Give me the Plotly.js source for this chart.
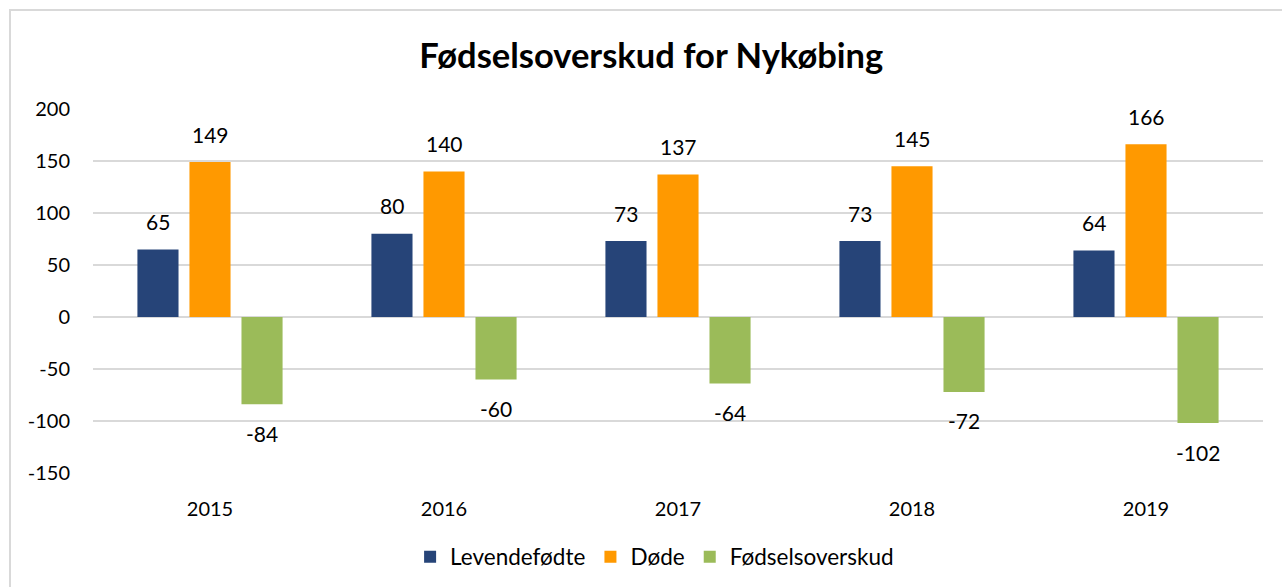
<!DOCTYPE html>
<html><head><meta charset="utf-8">
<script src="https://cdn.plot.ly/plotly-3.0.1.min.js"></script>
<style>
html,body{margin:0;padding:0;background:#fff;overflow:hidden;}
#frame{position:absolute;left:9px;top:9px;width:1300px;height:600px;border:2px solid #d9d9d9;box-sizing:border-box;}
#chart{position:absolute;left:0;top:0;width:1282px;height:587px;}
</style></head>
<body>
<div id="frame"></div>
<div id="chart"></div>
<script>
const years = ['2015','2016','2017','2018','2019'];
const levendefodte = [65, 80, 73, 73, 64];
const dode = [149, 140, 137, 145, 166];
const fodselsoverskud = [-84, -60, -64, -72, -102];
const seriesNames = ['Levendefødte','Døde','Fødselsoverskud'];
const yTickVals = [-150, -100, -50, 0, 50, 100, 150, 200];
const yTickText = ['-150', '-100', '-50', '0', '50', '100', '150', '200'];
const colors = ['#264478','#FF9900','#9BBB59'];
const font = 'Lato, "Open Sans", sans-serif';
const vals = [levendefodte, dode, fodselsoverskud];
const bargap = 0.333, bargroupgap = 0.21;
const traces = vals.map((v,i)=>({
  type:'bar', x:years, y:v, name:seriesNames[i],
  marker:{color:colors[i]},
  hoverinfo:'x+y'
}));
// data labels placed via annotations at each bar's slot
const slot = (1 - bargap) / vals.length;
const annotations = [];
vals.forEach((v,i)=>{
  const off = (i - (vals.length-1)/2) * slot;
  v.forEach((val,j)=>{
    annotations.push({
      x: j + off, y: val, xref:'x', yref:'y',
      text: String(val), showarrow:false,
      yanchor:'middle', xanchor:'center',
      yshift: val >= 0 ? 28 : -29,
      font:{family:font,size:21,color:'#000'}
    });
  });
});
const layout = {
  width:1282, height:587,
  paper_bgcolor:'rgba(0,0,0,0)', plot_bgcolor:'rgba(0,0,0,0)',
  margin:{l:93,r:19,t:109,b:114, autoexpand:false},
  title:{text:'<b>Fødselsoverskud for Nykøbing</b>', x:0.508, xanchor:'center', y:0.905, yanchor:'middle',
         font:{family:font,size:34.5,color:'#000'}},
  barmode:'group', bargap:bargap, bargroupgap:bargroupgap,
  xaxis:{type:'category', tickfont:{family:font,size:20,color:'#000'}, showline:false, ticks:'', showgrid:false, ticklabelstandoff:22, range:[-0.5,4.5]},
  yaxis:{range:[-150,200], tickmode:'array', tickvals:yTickVals, ticktext:yTickText, showgrid:true, gridcolor:'#d9d9d9', gridwidth:2,
         zeroline:true, zerolinecolor:'#d9d9d9', zerolinewidth:2, showline:false,
         tickfont:{family:font,size:20,color:'#000'}, ticklabelstandoff:22},
  annotations: annotations,
  showlegend:true,
  legend:{orientation:'h', x:0.48, xanchor:'center', yref:'container', y:0.051, yanchor:'middle',
          font:{family:font,size:22.5,color:'#000'}, itemwidth:30, traceorder:'normal'},
  font:{family:font}
};
Plotly.newPlot('chart', traces, layout, {displayModeBar:false, staticPlot:true});
</script>
</body></html>
